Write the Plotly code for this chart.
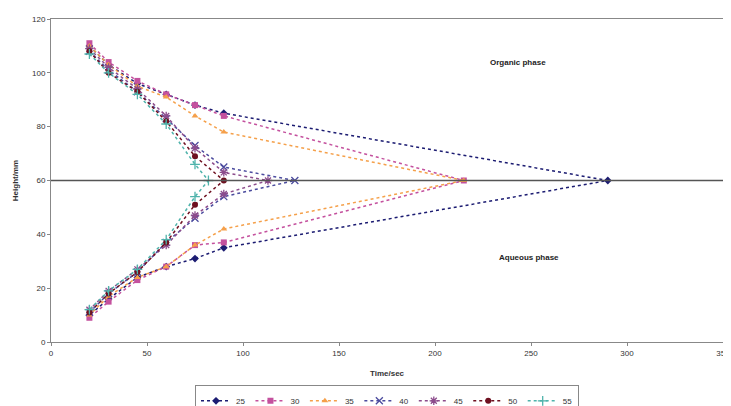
import plotly.graph_objects as go

series_names = ["25", "30", "35", "40", "45", "50", "55"]
times = [20, 30, 45, 60, 75, 90]

top_25 = [110, 103, 96, 92, 88, 85]
bot_25 = [10, 16, 24, 28, 31, 35]
conv_25 = 290

top_30 = [111, 104, 97, 92, 88, 84]
bot_30 = [9, 15, 23, 28, 36, 37]
conv_30 = 215

top_35 = [110, 103, 95, 91, 84, 78]
bot_35 = [10, 17, 24, 28, 36, 42]
conv_35 = 215

top_40 = [108, 101, 93, 83, 73, 65]
bot_40 = [11, 18, 26, 37, 46, 54]
conv_40 = 127

top_45 = [109, 102, 94, 84, 72, 63]
bot_45 = [12, 19, 27, 36, 47, 55]
conv_45 = 113

times_50 = [20, 30, 45, 60, 75]
top_50 = [108, 100, 93, 82, 69]
bot_50 = [11, 18, 26, 37, 51]
conv_50 = 90

times_55 = [20, 30, 45, 60, 75]
top_55 = [107, 100, 92, 81, 66]
bot_55 = [12, 19, 27, 38, 54]
conv_55 = 82

interface = 60

colors = ["#1c1c72", "#c4519e", "#f5a04a", "#4b4b9e", "#8c4c8c", "#6e1020", "#4fb3ab"]
symbols = ["diamond", "square", "triangle-up", "x-thin-open", "asterisk-open", "circle", "cross-thin-open"]

data = [
    (times, top_25, bot_25, conv_25),
    (times, top_30, bot_30, conv_30),
    (times, top_35, bot_35, conv_35),
    (times, top_40, bot_40, conv_40),
    (times, top_45, bot_45, conv_45),
    (times_50, top_50, bot_50, conv_50),
    (times_55, top_55, bot_55, conv_55),
]

fig = go.Figure()
for name, (t, top, bot, conv), col, sym in zip(series_names, data, colors, symbols):
    xs = list(t) + [conv] + list(reversed(t))
    ys = list(top) + [interface] + list(reversed(bot))
    open_sym = sym.endswith("-open")
    fig.add_trace(go.Scatter(
        x=xs, y=ys, name=name, mode="lines+markers",
        line=dict(color=col, width=1.5, dash="dot"),
        marker=dict(symbol=sym, size=6 if not open_sym else 7, color=col,
                    line=dict(color=col, width=1.3 if open_sym else 0)),
    ))

fig.add_shape(type="line", xref="x", yref="y", x0=0, x1=350, y0=interface, y1=interface,
              line=dict(color="#555555", width=1.5))

fig.add_annotation(x=243, y=104, text="<b>Organic phase</b>", showarrow=False,
                   font=dict(size=8, color="#222222"))
fig.add_annotation(x=249, y=31.5, text="<b>Aqueous phase</b>", showarrow=False,
                   font=dict(size=8, color="#222222"))

# page body adds an 8px offset; compensate so the plot area lands where the reference has it
fig.update_layout(
    width=723, height=398,
    margin=dict(l=43, r=8, t=11, b=64, autoexpand=False),
    paper_bgcolor="white", plot_bgcolor="white",
    font=dict(family="Liberation Sans, Arial, sans-serif", size=8, color="#333333"),
    showlegend=True,
    legend=dict(orientation="h", x=0.5, xanchor="center", y=-0.134, yanchor="top",
                bordercolor="#888888", borderwidth=1, font=dict(size=8),
                itemwidth=30, tracegroupgap=0),
    xaxis=dict(range=[0, 350], dtick=50, showgrid=False, zeroline=False, automargin=False,
               showline=True, linecolor="#888888", mirror=True, ticks="outside",
               ticklen=3, tickcolor="#888888",
               title=dict(text="<b>Time/sec</b>", font=dict(size=8), standoff=13)),
    yaxis=dict(range=[0, 120], dtick=20, showgrid=False, zeroline=False, automargin=False,
               showline=True, linecolor="#888888", mirror=True, ticks="outside",
               ticklen=3, tickcolor="#888888",
               title=dict(text="<b>Height/mm</b>", font=dict(size=8), standoff=12)),
)

fig.write_html("out.html")
